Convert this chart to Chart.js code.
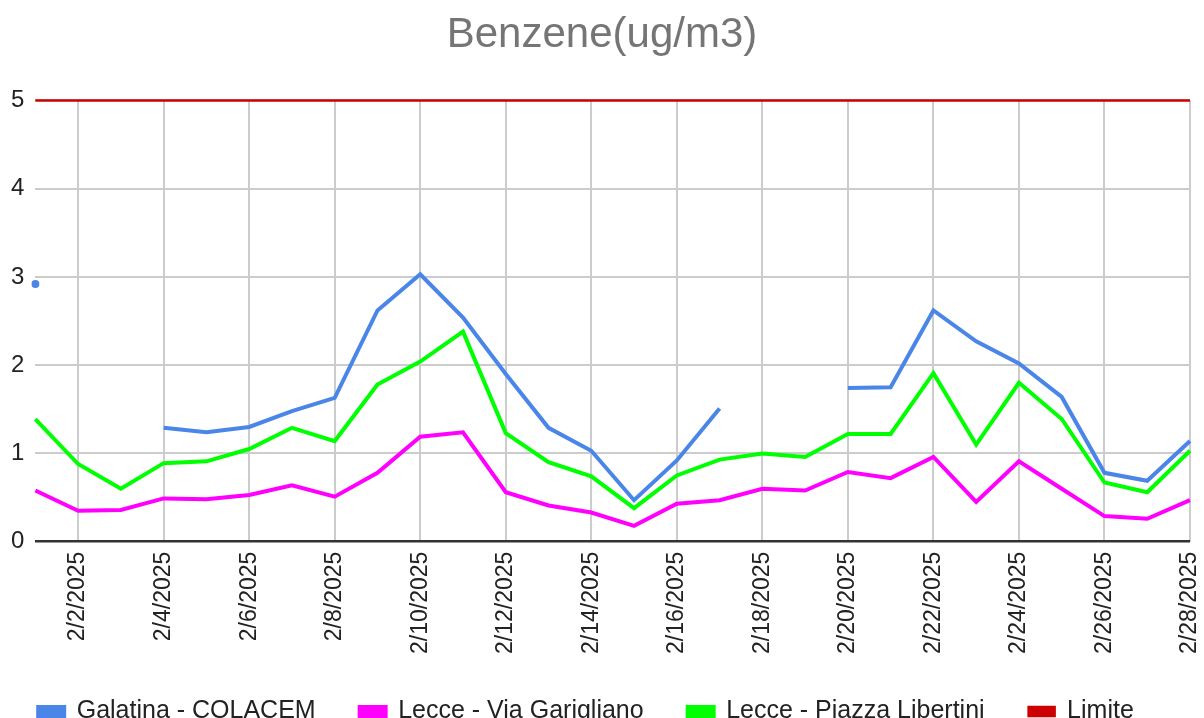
<!DOCTYPE html>
<html>
<head>
<meta charset="utf-8">
<script src="https://cdn.jsdelivr.net/npm/chart.js@4/dist/chart.umd.min.js"></script>
<style>
  html, body { margin: 0; padding: 0; background: #fff; }
  #wrap { width: 1204px; height: 718px; }
</style>
</head>
<body>
<div id="wrap"><canvas id="benzene"></canvas></div>
<script>
// dates 2/1 → 2/28
const days = [];
for (let d = 1; d <= 28; d++) days.push(`2/${d}/2025`);

// series values (null = no data)
const galatina = [2.92, null, null, 1.29, 1.24, 1.30, 1.48, 1.63, 2.62, 3.03,
                  2.54, 1.90, 1.29, 1.03, 0.47, 0.92, 1.51, null, null, 1.74,
                  1.75, 2.62, 2.27, 2.02, 1.64, 0.78, 0.69, 1.14];
const garigliano = [0.58, 0.35, 0.36, 0.49, 0.48, 0.53, 0.64, 0.51, 0.78, 1.19,
                    1.24, 0.56, 0.41, 0.33, 0.18, 0.43, 0.47, 0.60, 0.58, 0.79,
                    0.72, 0.96, 0.45, 0.91, 0.60, 0.29, 0.26, 0.47];
const libertini = [1.39, 0.88, 0.60, 0.89, 0.91, 1.05, 1.29, 1.14, 1.78, 2.04,
                   2.38, 1.23, 0.90, 0.74, 0.38, 0.75, 0.93, 1.00, 0.96, 1.22,
                   1.22, 1.91, 1.10, 1.80, 1.39, 0.67, 0.56, 1.03];
const limite = days.map(() => 5);
const yTicks = [0, 1, 2, 3, 4, 5];

const FONT = '"Liberation Sans", Arial, sans-serif';

// isolated points (no neighbours) get a dot, like the original
function isolatedRadius(arr, r) {
  return arr.map((v, i) => (v != null && arr[i - 1] == null && arr[i + 1] == null) ? r : 0);
}

// nudge the legend row a bit left, the original isn't quite centred
const legendShift = {
  id: 'legendShift',
  afterLayout(chart) {
    if (chart.legend) { chart.legend.left -= 16; chart.legend.right -= 16; }
  },
};

new Chart(document.getElementById('benzene'), {
  type: 'line',
  plugins: [legendShift],
  data: {
    labels: days,
    datasets: [
      { label: 'Galatina - COLACEM', data: galatina, borderColor: '#4a86e8', backgroundColor: '#4a86e8',
        borderWidth: 4, pointRadius: isolatedRadius(galatina, 4), pointBorderWidth: 0, spanGaps: false },
      { label: 'Lecce - Via Garigliano', data: garigliano, borderColor: '#ff00ff', backgroundColor: '#ff00ff',
        borderWidth: 4, pointRadius: 0 },
      { label: 'Lecce - Piazza Libertini', data: libertini, borderColor: '#00ff00', backgroundColor: '#00ff00',
        borderWidth: 4, pointRadius: 0 },
      { label: 'Limite', data: limite, borderColor: '#cc0000', backgroundColor: '#cc0000',
        borderWidth: 2.5, pointRadius: 0, clip: 4 },
    ],
  },
  options: {
    responsive: true,
    maintainAspectRatio: false,
    animation: false,
    layout: { padding: { left: 0, right: 0, top: 0, bottom: -16 } },
    plugins: {
      title: {
        display: true,
        text: 'Benzene(ug/m3)',
        color: '#757575',
        font: { family: FONT, size: 42, weight: 'normal' },
        padding: { top: 10, bottom: 40 },
      },
      legend: {
        position: 'bottom',
        labels: {
          color: '#222',
          font: { family: FONT, size: 25 },
          boxWidth: 26, boxHeight: 9, padding: 44,
        },
      },
      tooltip: { enabled: false },
    },
    scales: {
      x: {
        offset: false,
        afterFit: axis => { axis.height -= 9; axis.paddingRight = 14; },
        grid: { drawTicks: false, color: '#cccccc', lineWidth: 2 },
        border: { display: false },
        ticks: {
          autoSkip: false,
          maxRotation: 90, minRotation: 90,
          padding: 10,
          color: '#222',
          font: { family: FONT, size: 23 },
          callback: (v, i) => (i % 2 === 1 ? days[i] : null),
        },
      },
      y: {
        min: 0, max: 5,
        afterBuildTicks: axis => { axis.ticks = yTicks.map(v => ({ value: v })); },
        grid: {
          drawTicks: false,
          color: ctx => (ctx.tick && ctx.tick.value === 0 ? '#333333' : '#cccccc'),
          lineWidth: ctx => (ctx.tick && ctx.tick.value === 0 ? 2.5 : 2),
        },
        border: { display: false },
        ticks: {
          padding: 11,
          color: '#222',
          font: { family: FONT, size: 24 },
        },
      },
    },
  },
});
</script>
</body>
</html>
